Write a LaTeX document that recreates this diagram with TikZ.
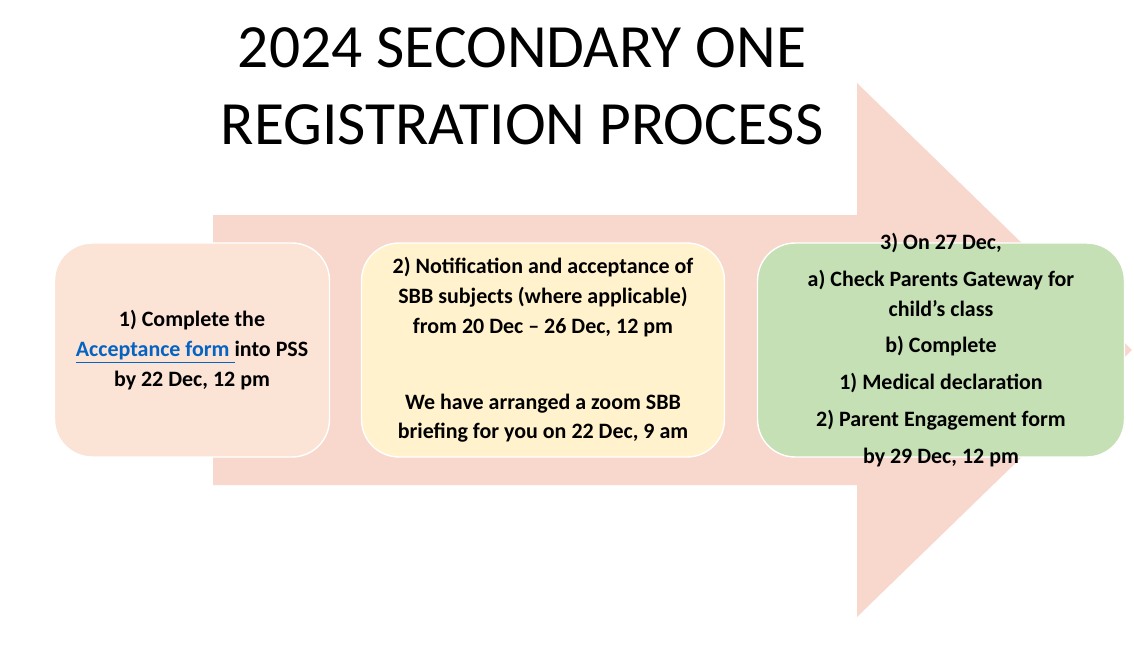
\documentclass[tikz,border=0pt]{standalone}
\usepackage{fontspec}
\setmainfont{Carlito}
\usepackage{xcolor}
\usetikzlibrary{positioning}
\definecolor{arrowpink}{HTML}{F8D7CC}
\definecolor{peach}{HTML}{FBE3D6}
\definecolor{cream}{HTML}{FFF2CC}
\definecolor{sage}{HTML}{C5E0B4}
\definecolor{linkblue}{HTML}{0563C1}

\begin{document}
\begin{tikzpicture}[
  x=0.02cm, y=-0.02cm,
  stepbox/.style={draw=white, line width=0.8pt, rounded corners=0.75cm, font=\fontsize{12.5}{17}\selectfont\bfseries, align=center, inner sep=0pt}
]
\useasboundingbox (0,0) rectangle (1134,646);
% Big arrow
\fill[arrowpink] (213,215) -- (857,215) -- (857,83) -- (1132,350) -- (857,617) -- (857,485) -- (213,485) -- cycle;
% Title
\node[font=\fontsize{35}{44}\selectfont, align=center] (title) at (522,86) {2024 SECONDARY ONE\\REGISTRATION PROCESS};
% Step 1
\node[stepbox, fill=peach, minimum width=5.5cm, minimum height=4.28cm] (s1) at (192,350)
  {1) Complete the\\{\color{linkblue}\underline{Acceptance form }}into PSS\\by 22 Dec, 12 pm};
% Step 2
\node[stepbox, fill=cream, minimum width=7.26cm, minimum height=4.28cm] (s2) at (543,350)
  {2) Notification and acceptance of\\SBB subjects (where applicable)\\from 20 Dec -- 26 Dec, 12 pm\\[26pt]We have arranged a zoom SBB\\briefing for you on 22 Dec, 9 am};
% Step 3
\node[stepbox, fill=sage, minimum width=7.34cm, minimum height=4.28cm] (s3) at (941,350) {};
\node[font=\fontsize{12.5}{17}\selectfont\bfseries, align=center] (s3t) at (941,350)
  {3) On 27 Dec,\\[4pt]a) Check Parents Gateway for\\child’s class\\[4pt]b) Complete\\[4pt]1) Medical declaration\\[4pt]2) Parent Engagement form\\[4pt]by 29 Dec, 12 pm};
\end{tikzpicture}
\end{document}
